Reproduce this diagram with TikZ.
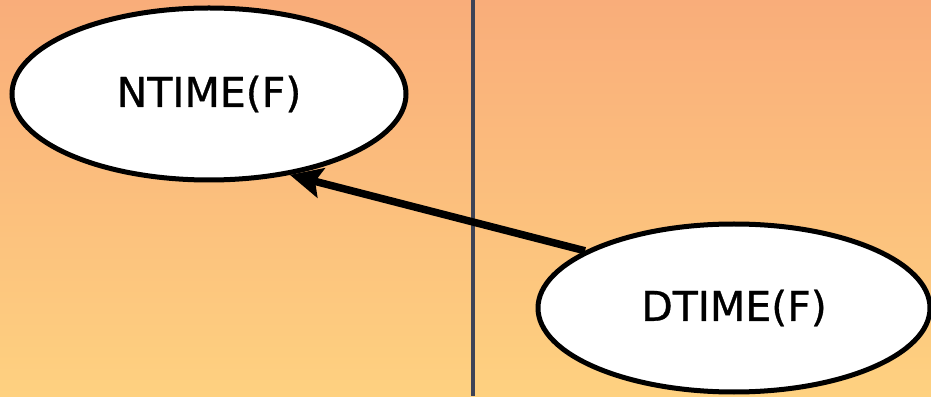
\documentclass[tikz,border=0pt]{standalone}
\usepackage{fontspec}
\setmainfont{DejaVu Sans}[UprightFeatures={FakeBold=0.8}]
\usetikzlibrary{shapes.geometric,arrows.meta}
\definecolor{bgtop}{RGB}{249,173,122}
\definecolor{bgbot}{RGB}{254,209,128}
\definecolor{divider}{RGB}{62,67,86}
\tikzset{
  setnode/.style={ellipse, draw=black, fill=white, line width=5pt,
    inner sep=0pt, font=\fontsize{41}{50}\selectfont},
  arrowline/.style={line width=7.5pt, -{Stealth[length=32pt,width=30pt,inset=6pt]}},
}
\begin{document}
\begin{tikzpicture}[x=1pt,y=1pt]
\useasboundingbox (0,0) rectangle (931,396);
\shade[top color=bgtop, bottom color=bgbot] (0,0) rectangle (931,396);
\coordinate (vt) at (473,396);
\coordinate (vb) at (473,0);
\draw[divider, line width=3.5pt] (vt) -- (vb);
\node[setnode, minimum width=394pt, minimum height=172pt] (n) at (209,302) {NTIME(F)};
\node[setnode, minimum width=392pt, minimum height=168pt] (d) at (734,88) {DTIME(F)};
\draw[arrowline] (d.159) -- (n.-45);
\end{tikzpicture}
\end{document}
